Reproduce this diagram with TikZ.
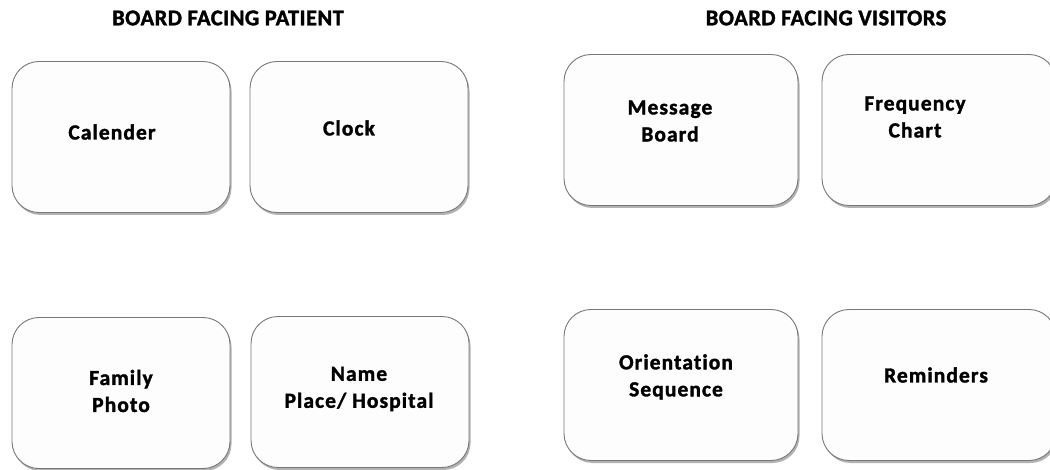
\documentclass[tikz,border=0pt]{standalone}
\usepackage{fontspec}
\setmainfont{Carlito}[Ligatures=NoCommon]
\newfontfamily\boardfont{Carlito}[Ligatures=NoCommon, LetterSpace=5, BoldFeatures={FakeBold=1.5}]
\newfontfamily\headfont{Carlito}[Ligatures=NoCommon, LetterSpace=2, BoldFeatures={FakeBold=1.5}]
\usetikzlibrary{shadows}
\definecolor{box_gray}{RGB}{120,120,120}
\definecolor{box_fill}{RGB}{253,253,253}

\begin{document}
\begin{tikzpicture}[x=1pt,y=-1pt]
    \tikzstyle{board}=[draw=box_gray, line width=0.9pt, rounded corners=27pt, fill=box_fill,
        inner sep=0pt, minimum width=218pt, minimum height=151pt,
        drop shadow={shadow xshift=1.5pt, shadow yshift=-2.5pt, opacity=0.3, fill=black}]
    \tikzstyle{wide}=[style=board, minimum width=234pt]
    \tikzstyle{lbl}=[font=\boardfont\fontsize{21.5}{27}\selectfont\bfseries, align=center, text=black]
    \tikzstyle{title}=[font=\headfont\fontsize{22.5}{24}\selectfont\bfseries, text=black]

    \clip (0,0) rectangle (1050,470);

    % headings
    \node[title] (tp) at (228,18) {BOARD FACING PATIENT};
    \node[title] (tv) at (826,18) {BOARD FACING VISITORS};

    % patient side
    \node[board] (cal)  at (121,137) {};  \node[lbl] (lcal)  at (112,132) {Calender};
    \node[board] (clk)  at (359,137) {};  \node[lbl] (lclk)  at (349,128) {Clock};
    \node[board] (fam)  at (121,393) {};  \node[lbl] (lfam)  at (121,391) {Family\\Photo};
    \node[board] (name) at (360,392) {};  \node[lbl] (lname) at (359,389) {Name\\Place/ Hospital};

    % visitor side
    \node[wide] (msg)    at (681,130) {};  \node[lbl] (lmsg)    at (670,121) {Message\\Board};
    \node[wide] (freq)   at (939,130) {};  \node[lbl] (lfreq)   at (915,117) {Frequency\\Chart};
    \node[wide] (orient) at (681,385) {};  \node[lbl] (lorient) at (676,377) {Orientation\\Sequence};
    \node[wide] (remind) at (939,385) {};  \node[lbl] (lremind) at (936,375) {Reminders};
\end{tikzpicture}
\end{document}
